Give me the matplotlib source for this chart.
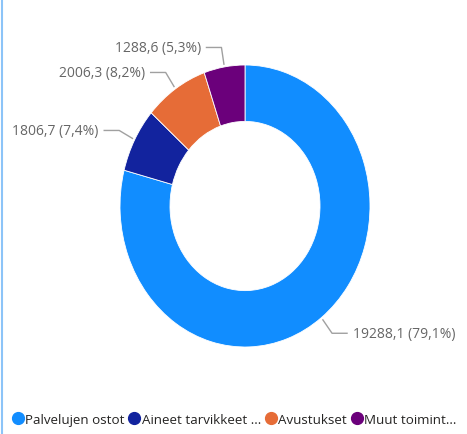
import numpy as np
import matplotlib.pyplot as plt
from matplotlib.lines import Line2D

# Tiedot
luokat = ['Palvelujen ostot', 'Aineet tarvikkeet ...', 'Avustukset', 'Muut toimint...']
arvot = [19288.1, 1806.7, 2006.3, 1288.6]
varit = ['#118DFF', '#12239E', '#E66C37', '#6B007B']

plt.rcParams['font.family'] = ['Open Sans', 'DejaVu Sans']

fig = plt.figure(figsize=(4.67, 4.35), dpi=100)
fig.patch.set_facecolor('white')

# donitsi, hieman venytetty pystysuunnassa kuten alkuperaisessa
ax = fig.add_axes([120 / 467, 87 / 435, 250 / 467, 282 / 435])
wedges, _ = ax.pie(arvot, colors=varit, startangle=90, counterclock=False,
                   radius=1.0, wedgeprops=dict(width=0.4, edgecolor='white', linewidth=0.6))
ax.set_aspect('auto')
ax.set_xlim(-1, 1)
ax.set_ylim(-1, 1)
ax.axis('off')

# selitteet + viivat
summa = sum(arvot)
harmaa = '#666666'
for w, v in zip(wedges, arvot):
    kulma = np.deg2rad((w.theta1 + w.theta2) / 2)
    cx, cy = np.cos(kulma), np.sin(kulma)
    suunta = 1 if cx >= 0 else -1
    x0, y0 = 1.02 * cx, 1.02 * cy
    x1, y1 = 1.14 * cx, 1.14 * cy
    x2 = x1 + suunta * 0.12
    ax.plot([x0, x1, x2], [y0, y1, y1], color='#a0a0a0', lw=1.0, clip_on=False)
    teksti = f"{v:.1f} ({v / summa * 100:.1f}%)".replace('.', ',')
    ax.annotate(teksti, xy=(x2, y1), xytext=(suunta * 4, 0), textcoords='offset points',
                ha='left' if suunta > 0 else 'right', va='center',
                fontsize=10, color=harmaa, annotation_clip=False)

# legenda
kahvat = [Line2D([0], [0], marker='o', color='none', markerfacecolor=c,
                 markeredgecolor=c, markersize=8.5) for c in varit]
fig.legend(kahvat, luokat, loc='lower left', bbox_to_anchor=(0.012, 0.0), ncol=4,
           frameon=False, fontsize=9.6, handlelength=0.6, handletextpad=0.25,
           columnspacing=0.45, borderaxespad=0.2, labelcolor='#252423')

# otsikosta nakyy vain alaosa ylareunassa
fig.text(0.02, 1.0 + 3.5 / 435, 'Toimintakulujen jakauma tyypeittäin, pl. henkilöstökulut, milj. euroa',
         color='#118DFF', fontsize=11, va='baseline', ha='left')

# vasen reunaviiva
fig.add_artist(Line2D([0.005, 0.005], [0, 1], transform=fig.transFigure,
                      color='#8CC4F8', lw=1.5))

fig.savefig('out.png', dpi=100)
